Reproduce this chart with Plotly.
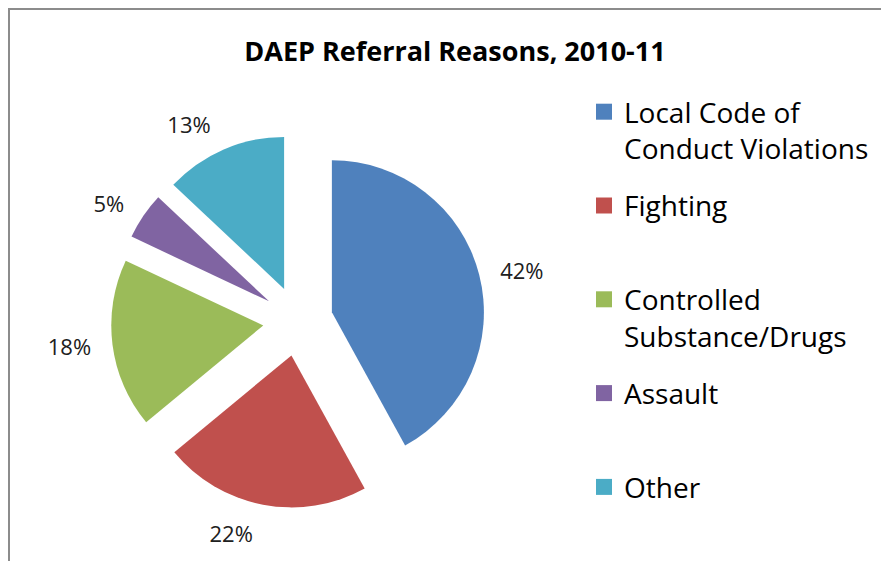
import plotly.graph_objects as go

# datos del gráfico
categories = ["Local Code of<br>Conduct Violations", "Fighting", "Controlled<br>Substance/Drugs", "Assault", "Other"]
values = [42, 22, 18, 5, 13]
colors = ["#4F81BD", "#C0504D", "#9BBB59", "#8064A2", "#4BACC6"]

# la página tiene 8px de margen en el body, así que la figura es un poco más pequeña
W, H = 881, 553
cx, cy, r, pull_px = 290, 313, 152, 35

fig = go.Figure()
# pastel visible (sin texto)
fig.add_trace(go.Pie(
    labels=categories,
    values=values,
    sort=False,
    direction="clockwise",
    rotation=0,
    pull=pull_px / r,
    marker=dict(colors=colors),
    textinfo="none",
    domain=dict(x=[(cx - r - pull_px) / W, (cx + r + pull_px) / W],
                y=[1 - (cy + r + pull_px) / H, 1 - (cy - r - pull_px) / H]),
    hoverinfo="label+percent",
    showlegend=False,
))
# pastel transparente algo mayor, solo para colocar las etiquetas más afuera
r2 = r + 14
fig.add_trace(go.Pie(
    labels=categories,
    values=values,
    sort=False,
    direction="clockwise",
    rotation=0,
    pull=pull_px / r2,
    marker=dict(colors=["rgba(0,0,0,0)"] * len(values)),
    textinfo="percent",
    texttemplate="%{percent:.0%}",
    textposition="outside",
    textfont=dict(size=22, color="#202020"),
    domain=dict(x=[(cx - r2 - pull_px) / W, (cx + r2 + pull_px) / W],
                y=[1 - (cy + r2 + pull_px) / H, 1 - (cy - r2 - pull_px) / H]),
    showlegend=False,
    hoverinfo="skip",
))

# leyenda estilo Excel: entradas de dos líneas repartidas en huecos iguales
for i, (c, col) in enumerate(zip(categories, colors)):
    name = c if ("<br>" in c or i == len(categories) - 1) else c + "<br> "
    fig.add_trace(go.Scatter(
        x=[None], y=[None], mode="markers", name=name,
        marker=dict(symbol="square", size=17, color=col),
        legendgroup=str(i), showlegend=True, hoverinfo="skip",
    ))

fig.update_layout(
    width=W, height=H,
    margin=dict(l=0, r=0, t=0, b=0, autoexpand=False),
    paper_bgcolor="white",
    plot_bgcolor="white",
    xaxis=dict(visible=False),
    yaxis=dict(visible=False),
    font=dict(family="Open Sans, Arial", color="#000000"),
    title=dict(text="<b>DAEP Referral Reasons, 2010-11</b>", x=447 / W, xanchor="center",
               y=1 - 44 / H, yanchor="middle", font=dict(size=27, color="#000000")),
    showlegend=True,
    legend=dict(x=576 / W, y=1 - 79 / H, xanchor="left", yanchor="top",
                font=dict(size=28, color="#000000"), valign="top",
                tracegroupgap=18, itemsizing="trace",
                itemwidth=30, bgcolor="rgba(0,0,0,0)"),
    shapes=[dict(type="rect", xref="paper", yref="paper",
                 x0=1 / W, x1=1.05, y0=-0.05, y1=1 - 1 / H,
                 line=dict(color="#8c8c8c", width=2))],
)

fig.write_html("out.html")
